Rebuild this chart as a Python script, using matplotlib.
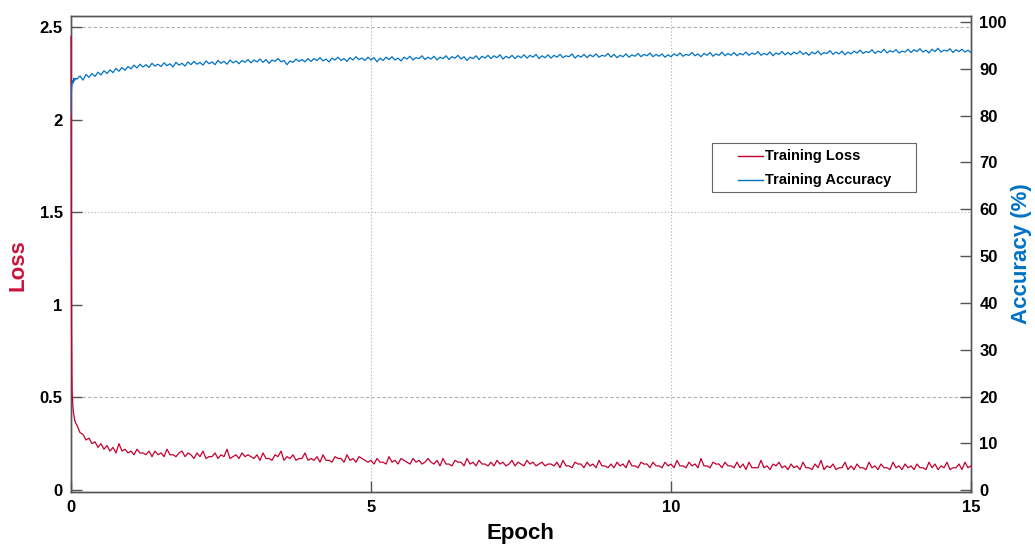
import numpy as np
import matplotlib
matplotlib.use("Agg")
import matplotlib.pyplot as plt
from matplotlib.lines import Line2D
from matplotlib.patches import Rectangle

# ---- data ----
epoch_early = [0.0, 0.005, 0.01, 0.015, 0.02, 0.03, 0.04, 0.05, 0.06, 0.08]
loss_early = [2.45, 1.37, 0.85, 0.62, 0.52, 0.46, 0.42, 0.40, 0.38, 0.36]
acc_early = [80.0, 84.0, 86.0, 86.5, 87.0, 87.5, 87.0, 88.0, 87.5, 88.0]

epoch_main = np.round(np.arange(0.10, 15.0001, 0.05), 2)

loss_main = [
    0.35, 0.31, 0.30, 0.27, 0.28, 0.25, 0.26, 0.23, 0.25, 0.22, 0.24, 0.21, 0.23, 0.20, 0.25, 0.21, 0.22, 0.20,
    0.21, 0.19, 0.22, 0.20, 0.20, 0.19, 0.21, 0.18, 0.21, 0.19, 0.20, 0.18, 0.22, 0.19, 0.19, 0.18, 0.20, 0.21, 0.18, 0.20,
    0.19, 0.17, 0.20, 0.18, 0.21, 0.17, 0.18, 0.18, 0.20, 0.17, 0.19, 0.18, 0.22, 0.17, 0.18, 0.19, 0.17, 0.20, 0.18, 0.19,
    0.18, 0.17, 0.19, 0.16, 0.20, 0.17, 0.17, 0.16, 0.19, 0.18, 0.21, 0.16, 0.18, 0.17, 0.19, 0.16, 0.17, 0.17, 0.20, 0.16,
    0.17, 0.16, 0.18, 0.15, 0.19, 0.16, 0.16, 0.15, 0.18, 0.17, 0.17, 0.15, 0.19, 0.16, 0.17, 0.15, 0.18, 0.17, 0.16, 0.15,
    0.16, 0.14, 0.17, 0.15, 0.15, 0.14, 0.18, 0.15, 0.16, 0.14, 0.17, 0.16, 0.15, 0.14, 0.17, 0.15, 0.16, 0.14, 0.15, 0.17,
    0.15, 0.14, 0.16, 0.13, 0.17, 0.14, 0.14, 0.13, 0.16, 0.15, 0.15, 0.13, 0.17, 0.14, 0.15, 0.13, 0.16, 0.14, 0.14, 0.13,
    0.15, 0.13, 0.16, 0.14, 0.15, 0.13, 0.14, 0.16, 0.13, 0.15, 0.14, 0.13, 0.16, 0.14, 0.15, 0.13, 0.14, 0.15, 0.13, 0.14,
    0.14, 0.13, 0.15, 0.12, 0.16, 0.13, 0.13, 0.12, 0.15, 0.14, 0.14, 0.12, 0.15, 0.13, 0.14, 0.12, 0.16, 0.13, 0.13, 0.12,
    0.14, 0.12, 0.15, 0.13, 0.14, 0.12, 0.16, 0.13, 0.13, 0.12, 0.15, 0.14, 0.14, 0.12, 0.15, 0.13, 0.13, 0.12, 0.15, 0.13,
    0.14, 0.12, 0.16, 0.13, 0.13, 0.12, 0.15, 0.13, 0.14, 0.12, 0.17, 0.13, 0.13, 0.12, 0.15, 0.14, 0.14, 0.12, 0.15, 0.13,
    0.13, 0.12, 0.15, 0.12, 0.14, 0.11, 0.15, 0.12, 0.12, 0.12, 0.16, 0.12, 0.13, 0.11, 0.14, 0.13, 0.15, 0.12, 0.13, 0.11,
    0.14, 0.12, 0.13, 0.11, 0.15, 0.12, 0.12, 0.11, 0.14, 0.12, 0.16, 0.11, 0.13, 0.12, 0.14, 0.11, 0.12, 0.12, 0.15, 0.11,
    0.13, 0.11, 0.14, 0.12, 0.12, 0.11, 0.15, 0.12, 0.13, 0.11, 0.14, 0.12, 0.12, 0.11, 0.15, 0.12, 0.13, 0.11, 0.14, 0.12,
    0.13, 0.11, 0.14, 0.12, 0.12, 0.11, 0.15, 0.12, 0.14, 0.11, 0.13, 0.12, 0.15, 0.11, 0.12, 0.12, 0.14, 0.11, 0.15, 0.12,
    0.13,
]

acc_main = [
    87.8, 88.5, 87.6, 88.8, 88.2, 89.0, 88.4, 89.3, 88.7, 89.6, 89.0, 89.8, 89.2, 90.1, 89.5, 90.3, 89.7, 90.5,
    90.0, 90.8, 90.2, 91.0, 90.4, 90.9, 90.3, 91.2, 90.6, 91.0, 90.5, 91.3, 90.7, 91.1, 90.4, 91.4, 90.8, 91.2, 90.6, 91.5,
    90.9, 91.6, 91.0, 91.4, 90.8, 91.7, 91.1, 91.5, 90.9, 91.8, 91.2, 91.6, 91.0, 91.9, 91.3, 91.7, 91.1, 91.8, 91.4, 92.0,
    91.3, 91.9, 91.5, 92.1, 91.4, 92.0, 91.2, 91.9, 91.6, 92.2, 91.5, 91.8, 90.9, 91.7, 91.4, 92.1, 91.6, 92.0, 91.5, 92.2,
    91.6, 92.2, 91.8, 92.4, 91.7, 92.1, 91.5, 92.3, 91.9, 92.5, 91.8, 92.2, 91.6, 92.4, 91.9, 92.6, 92.0, 92.3, 91.8, 92.5,
    91.9, 92.4, 91.5, 92.3, 91.8, 92.5, 92.0, 92.6, 91.9, 92.3, 91.7, 92.5, 92.1, 92.7, 91.9, 92.4, 92.2, 92.8, 92.0, 92.5,
    92.1, 92.7, 91.9, 92.5, 92.2, 92.8, 92.0, 92.6, 92.3, 92.9, 92.1, 92.6, 91.8, 92.5, 92.2, 92.8, 92.0, 92.7, 92.3, 92.9,
    92.2, 92.8, 92.4, 93.0, 92.1, 92.7, 92.3, 92.9, 92.2, 92.8, 92.4, 93.0, 92.3, 92.9, 92.5, 93.1, 92.2, 92.8, 92.4, 93.0,
    92.3, 92.9, 92.5, 93.1, 92.4, 92.8, 92.6, 93.2, 92.3, 92.9, 92.5, 93.1, 92.4, 93.0, 92.6, 93.2, 92.5, 92.9, 92.7, 93.3,
    92.5, 93.1, 92.4, 92.9, 92.6, 93.2, 92.5, 93.0, 92.7, 93.3, 92.6, 93.1, 92.8, 93.4, 92.6, 93.1, 92.7, 93.2, 92.5, 93.0,
    92.6, 93.2, 92.8, 93.4, 92.7, 93.1, 92.9, 93.5, 92.8, 93.2, 92.6, 93.3, 92.9, 93.5, 92.7, 93.2, 92.9, 93.6, 92.8, 93.3,
    92.9, 93.5, 92.8, 93.3, 93.0, 93.6, 92.9, 93.4, 93.1, 93.7, 92.9, 93.3, 93.0, 93.6, 92.8, 93.4, 93.1, 93.7, 93.0, 93.5,
    93.0, 93.6, 93.2, 93.8, 93.1, 93.5, 92.9, 93.6, 93.2, 93.8, 93.0, 93.5, 93.3, 93.9, 93.1, 93.6, 93.2, 93.8, 93.0, 93.6,
    93.2, 93.8, 93.4, 94.0, 93.3, 93.7, 93.5, 94.1, 93.3, 93.8, 93.5, 94.2, 93.4, 93.9, 93.6, 94.1, 93.4, 93.8, 93.6, 94.2,
    93.5, 94.1, 93.7, 94.3, 93.6, 94.0, 93.4, 94.2, 93.7, 94.4, 93.6, 94.0, 93.8, 94.3, 93.5, 94.1, 93.7, 94.2, 93.6, 94.0,
    93.5,
]

x_ticks = [0, 5, 10, 15]
loss_ticks = [0, 0.5, 1, 1.5, 2, 2.5]
loss_ticklabels = ["0", "0.5", "1", "1.5", "2", "2.5"]
acc_ticks = [0, 10, 20, 30, 40, 50, 60, 70, 80, 90, 100]
legend_labels = ["Training Loss", "Training Accuracy"]

# ---- style ----
LOSS_C = "#C4002F"
ACC_C = "#0072C6"
W, H = 1035, 545
plt.rcParams["font.family"] = ["Liberation Sans", "DejaVu Sans"]
plt.rcParams["font.weight"] = "bold"

fig = plt.figure(figsize=(W / 100, H / 100), dpi=100)
ax = fig.add_axes([71 / W, 1 - 492 / H, 900 / W, 476 / H])
ax2 = ax.twinx()

x_all = list(epoch_early) + list(epoch_main)
loss_all = list(loss_early) + list(loss_main)
acc_all = list(acc_early) + list(acc_main)

ax2.plot(x_all, loss_all, color=LOSS_C, lw=0.9, zorder=3,
         transform=ax.transData, clip_on=False)
ax2.plot(x_all, acc_all, color=ACC_C, lw=0.9, zorder=3)

ax.set_xlim(0, 15)
ax.set_ylim(-0.011, 2.56)
ax2.set_ylim(-0.4, 101.3)

ax.set_xticks(x_ticks)
ax.set_xticklabels([str(t) for t in x_ticks])
ax.set_yticks(loss_ticks)
ax.set_yticklabels(loss_ticklabels)
ax2.set_yticks(acc_ticks)

for a in (ax, ax2):
    for s in a.spines.values():
        s.set_color("#555555")
        s.set_linewidth(1.0)
        s.set_zorder(1)
ax.tick_params(axis="both", direction="in", length=8, width=1, color="#555555",
               labelsize=12, labelcolor="black", pad=6)
ax2.tick_params(axis="y", direction="in", length=8, width=1, color="#555555",
                labelsize=12, labelcolor="black", pad=6)

# grid
for gy in [0.5, 1.5, 2.5]:
    ax.axhline(gy, color="#b0b0b0", lw=0.8,
               ls=(0, (1, 2)) if gy == 1.5 else (0, (3, 2)), zorder=1)
for gx in [5, 10]:
    ax.axvline(gx, color="#b0b0b0", lw=0.8, ls=(0, (1, 2)), zorder=1)

fig.text(520 / W, 1 - 533 / H, "Epoch", fontsize=16, fontweight="bold",
         ha="center", va="center")
fig.text(18 / W, 1 - 265 / H, "Loss", fontsize=16, fontweight="bold",
         color="#C8143C", rotation=90, ha="center", va="center")
fig.text(1021 / W, 1 - 254 / H, "Accuracy (%)", fontsize=16, fontweight="bold",
         color=ACC_C, rotation=90, ha="center", va="center")

# legend box drawn in figure pixels
fig.patches.append(Rectangle((712 / W, 1 - 192 / H), 204 / W, 49 / H,
                             transform=fig.transFigure, facecolor="white",
                             edgecolor="#666666", lw=0.8, zorder=5))
for i, (lab, col) in enumerate(zip(legend_labels, [LOSS_C, ACC_C])):
    yy = 1 - (156 + 24 * i) / H
    fig.lines.append(Line2D([738 / W, 763 / W], [yy, yy], transform=fig.transFigure,
                            color=col, lw=1.0, zorder=6))
    fig.text(765 / W, yy, lab, fontsize=10.5, fontweight="bold", ha="left",
             va="center", zorder=6)

fig.savefig("out.png", dpi=100)
